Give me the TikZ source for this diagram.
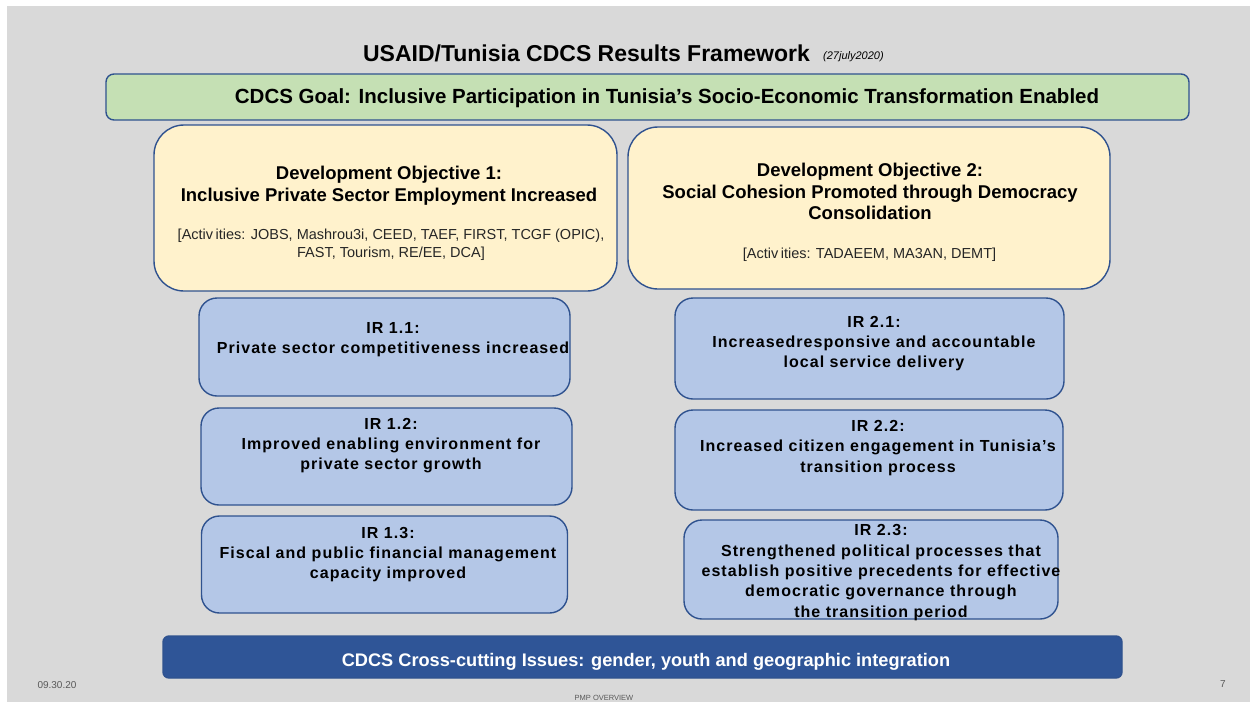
\documentclass[tikz,border=0pt]{standalone}
\usepackage{fontspec}
\setmainfont{Liberation Sans}
\newfontfamily\irfont[LetterSpace=6.5]{Liberation Sans}
\begin{document}
\begin{tikzpicture}[x=1pt,y=-1pt]
  \definecolor{slidegray}{HTML}{D9D9D9}
  \definecolor{edgeblue}{HTML}{2F528F}
  \definecolor{goalgreen}{HTML}{C5E0B4}
  \definecolor{doyellow}{HTML}{FFF2CC}
  \definecolor{irblue}{HTML}{B4C7E7}
  \definecolor{barblue}{HTML}{2F5597}
  \definecolor{footgray}{HTML}{595959}
  \tikzset{
    panel/.style={draw=edgeblue, line width=1.4pt, inner sep=0pt, outer sep=0pt},
    goalbox/.style={panel, fill=goalgreen, rounded corners=8pt},
    dobox/.style={panel, fill=doyellow, rounded corners=30pt},
    irbox/.style={panel, fill=irblue, rounded corners=18pt},
    barbox/.style={panel, fill=barblue, rounded corners=6pt},
    label/.style={inner sep=0pt, yshift=-2.5pt},
    dotitle/.style={label, align=center, font=\fontsize{18.5}{21.5}\selectfont\bfseries},
    doact/.style={label, align=center, text=black!85, font=\fontsize{14.5}{18}\selectfont},
    irtext/.style={label, align=center, font=\irfont\fontsize{16}{20.3}\selectfont\bfseries},
    foot/.style={inner sep=0pt, text=footgray}
  }
  % page and slide background
  \fill[white] (0,0) rectangle (1250,702);
  \fill[slidegray] (7,6) rectangle (1250,702);
  \useasboundingbox (0,0) rectangle (1250,702);

  % title
  \node[inner sep=0pt, font=\fontsize{23}{27}\selectfont\bfseries] (title) at (586.5,53)
    {USAID/Tunisia CDCS Results Framework};
  \node[inner sep=0pt, anchor=west, font=\fontsize{11}{13}\selectfont\itshape] (date) at (823,57)
    {(27july2020)};

  % goal
  \node[goalbox, minimum width=1083pt, minimum height=46pt] (goal) at (647.5,97) {};
  \node[label, font=\fontsize{20.5}{24}\selectfont\bfseries] (goaltext) at (667,96)
    {CDCS Goal: Inclusive Participation in Tunisia’s Socio-Economic Transformation Enabled};

  % development objectives
  \node[dobox, minimum width=463pt, minimum height=166pt] (do1) at (385.5,208) {};
  \node[dotitle] (do1title) at (389,183)
    {Development Objective 1:\\Inclusive Private Sector Employment Increased};
  \node[doact] (do1act) at (391,242.5)
    {[Activ\kern2.5pt ities: JOBS, Mashrou3i, CEED, TAEF, FIRST, TCGF (OPIC),\\FAST, Tourism, RE/EE, DCA]};

  \node[dobox, minimum width=482pt, minimum height=162pt] (do2) at (869,208) {};
  \node[dotitle] (do2title) at (870,189)
    {Development Objective 2:\\Social Cohesion Promoted through Democracy\\Consolidation};
  \node[doact] (do2act) at (869.5,252)
    {[Activ\kern2.5pt ities: TADAEEM, MA3AN, DEMT]};

  % intermediate results, DO 1
  \node[irbox, minimum width=371pt, minimum height=98pt] (ir11) at (384.5,347) {};
  \node[irtext] (ir11text) at (393,337)
    {IR 1.1:\\Private sector competitiveness increased};
  \node[irbox, minimum width=371pt, minimum height=97pt] (ir12) at (386.5,456.5) {};
  \node[irtext] (ir12text) at (391,443)
    {IR 1.2:\\Improved enabling environment for\\private sector growth};
  \node[irbox, minimum width=366pt, minimum height=97pt] (ir13) at (384.5,564.5) {};
  \node[irtext] (ir13text) at (388,552)
    {IR 1.3:\\Fiscal and public financial management\\capacity improved};

  % intermediate results, DO 2
  \node[irbox, minimum width=389pt, minimum height=101pt] (ir21) at (869.5,348.5) {};
  \node[irtext] (ir21text) at (874,341)
    {IR 2.1:\\Increasedresponsive and accountable\\local service delivery};
  \node[irbox, minimum width=388pt, minimum height=100pt] (ir22) at (869,460) {};
  \node[irtext] (ir22text) at (878,445.5)
    {IR 2.2:\\Increased citizen engagement in Tunisia’s\\transition process};
  \node[irbox, minimum width=374pt, minimum height=99pt] (ir23) at (871,569.5) {};
  \node[irtext] (ir23text) at (881,570)
    {IR 2.3:\\Strengthened political processes that\\establish positive precedents for effective\\democratic governance through\\the transition period};

  % cross-cutting issues
  \node[barbox, minimum width=959pt, minimum height=42pt] (bar) at (642.5,657) {};
  \node[label, text=white, font=\fontsize{18.2}{22}\selectfont\bfseries] (bartext) at (646,659)
    {CDCS Cross-cutting Issues: gender, youth and geographic integration};

  % footer
  \node[foot, font=\fontsize{10}{12}\selectfont] (footdate) at (57,685) {09.30.20};
  \node[foot, font=\fontsize{7.5}{9}\selectfont] (footname) at (604,697.5) {PMP OVERVIEW};
  \node[foot, font=\fontsize{10}{12}\selectfont] (footpage) at (1223,684) {7};
\end{tikzpicture}
\end{document}
